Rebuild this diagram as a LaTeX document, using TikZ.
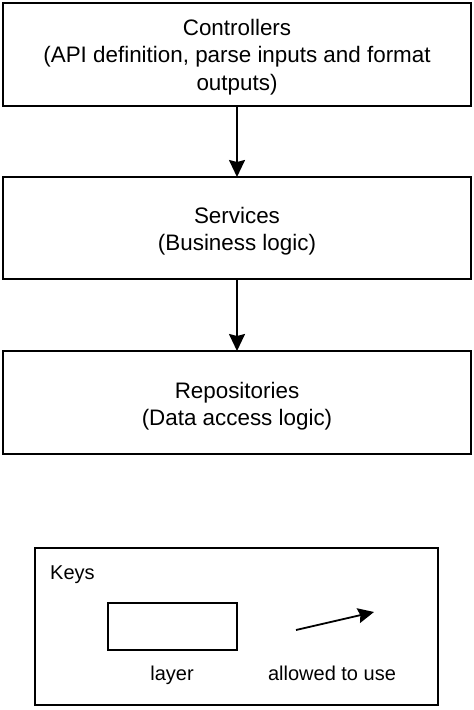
\documentclass[tikz,border=0pt]{standalone}
\usepackage{fontspec}
\setmainfont{Liberation Sans}
\usetikzlibrary{arrows.meta}
\begin{document}
\begin{tikzpicture}[x=1pt,y=-1pt,
  layerbox/.style={draw,line width=1.8pt,inner sep=0pt},
  big/.style={font=\fontsize{22.4}{27.5}\selectfont,align=center,inner sep=0pt},
  small/.style={font=\fontsize{20}{24}\selectfont,inner sep=0pt},
  conn/.style={line width=1.8pt,-{Stealth[length=17pt,width=16pt,inset=2pt]}}]
\useasboundingbox (0,0) rectangle (474,710);
\draw[layerbox] (3,3) rectangle (471,106);
\node[big] (ctl) at (237,57) {Controllers\\(API definition, parse inputs and format\\outputs)};
\coordinate (ctlb) at (237,106);
\draw[layerbox] (3,177) rectangle (471,279);
\node[big] (svc) at (237,231) {Services\\(Business logic)};
\coordinate (svct) at (237,177);
\coordinate (svcb) at (237,279);
\draw[layerbox] (3,351) rectangle (471,454);
\node[big] (rep) at (237,406) {Repositories\\(Data access logic)};
\coordinate (rept) at (237,351);
\draw[conn] (ctlb) -- (svct);
\draw[conn] (svcb) -- (rept);
\draw[layerbox] (35,548) rectangle (438,705);
\node[small,anchor=base west] (keys) at (50,579) {Keys};
\draw[layerbox] (108,603) rectangle (237,650);
\node[small,anchor=base] (lay) at (172,680) {layer};
\coordinate (a1) at (296,630);
\coordinate (a2) at (374,612);
\draw[line width=1.8pt,-{Stealth[length=16pt,width=15pt,inset=2pt]}] (a1) -- (a2);
\node[small,anchor=base] (use) at (332,680) {allowed to use};
\end{tikzpicture}
\end{document}
